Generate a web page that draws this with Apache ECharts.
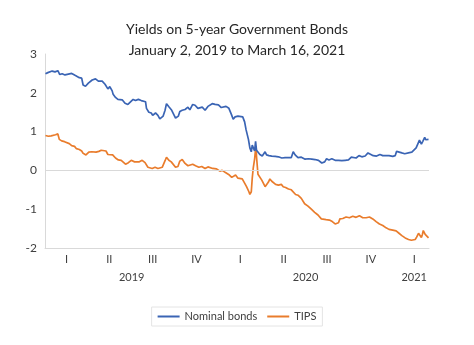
<!DOCTYPE html>
<html>
<head>
<meta charset="utf-8">
<script src="https://cdn.jsdelivr.net/npm/echarts@6/dist/echarts.min.js"></script>
<style>html,body{margin:0;padding:0;background:#fff;}#c{width:474px;height:345px;}</style>
</head>
<body>
<div id="c"></div>
<script>
const nominalDates = ['2019-01-02','2019-01-07','2019-01-11','2019-01-16','2019-01-22','2019-01-28','2019-02-01','2019-02-06','2019-02-12','2019-02-19','2019-02-26','2019-03-01','2019-03-05','2019-03-08','2019-03-14','2019-03-19','2019-03-22','2019-03-27','2019-04-02','2019-04-10','2019-04-17','2019-04-23','2019-04-26','2019-05-01','2019-05-07','2019-05-13','2019-05-17','2019-05-22','2019-05-24','2019-05-29','2019-06-03','2019-06-07','2019-06-12','2019-06-18','2019-06-24','2019-06-28','2019-07-05','2019-07-10','2019-07-16','2019-07-22','2019-07-26','2019-07-31','2019-08-02','2019-08-07','2019-08-12','2019-08-15','2019-08-21','2019-08-26','2019-08-30','2019-09-03','2019-09-06','2019-09-10','2019-09-13','2019-09-18','2019-09-24','2019-09-27','2019-10-02','2019-10-04','2019-10-08','2019-10-11','2019-10-16','2019-10-22','2019-10-28','2019-11-01','2019-11-07','2019-11-12','2019-11-18','2019-11-22','2019-11-27','2019-12-03','2019-12-09','2019-12-13','2019-12-18','2019-12-24','2019-12-31','2020-01-06','2020-01-10','2020-01-16','2020-01-22','2020-01-27','2020-01-31','2020-02-04','2020-02-10','2020-02-14','2020-02-20','2020-02-24','2020-02-27','2020-03-03','2020-03-06','2020-03-09','2020-03-11','2020-03-13','2020-03-16','2020-03-18','2020-03-20','2020-03-24','2020-03-27','2020-04-01','2020-04-07','2020-04-10','2020-04-15','2020-04-21','2020-04-28','2020-05-05','2020-05-12','2020-05-19','2020-05-26','2020-06-01','2020-06-05','2020-06-09','2020-06-15','2020-06-22','2020-06-30','2020-07-07','2020-07-14','2020-07-21','2020-07-28','2020-08-04','2020-08-10','2020-08-14','2020-08-19','2020-08-25','2020-09-01','2020-09-08','2020-09-15','2020-09-22','2020-09-29','2020-10-05','2020-10-09','2020-10-15','2020-10-21','2020-10-27','2020-11-03','2020-11-09','2020-11-13','2020-11-20','2020-11-27','2020-12-04','2020-12-10','2020-12-17','2020-12-23','2020-12-31','2021-01-05','2021-01-08','2021-01-12','2021-01-19','2021-01-25','2021-01-29','2021-02-04','2021-02-09','2021-02-12','2021-02-18','2021-02-22','2021-02-25','2021-03-01','2021-03-04','2021-03-08','2021-03-10','2021-03-12','2021-03-16'];
const nominalValues = [2.49,2.52,2.53,2.56,2.54,2.57,2.47,2.49,2.46,2.48,2.50,2.52,2.45,2.40,2.39,2.38,2.20,2.17,2.25,2.33,2.36,2.30,2.27,2.30,2.22,2.10,2.16,2.05,1.96,1.88,1.83,1.80,1.82,1.73,1.70,1.71,1.83,1.80,1.83,1.80,1.81,1.77,1.60,1.50,1.48,1.42,1.48,1.42,1.33,1.32,1.40,1.55,1.72,1.64,1.55,1.56,1.35,1.32,1.40,1.52,1.55,1.57,1.63,1.56,1.70,1.68,1.60,1.60,1.63,1.55,1.65,1.67,1.72,1.70,1.69,1.62,1.62,1.65,1.60,1.45,1.32,1.38,1.40,1.42,1.38,1.25,1.05,0.80,0.58,0.48,0.65,0.70,0.50,0.75,0.52,0.50,0.41,0.37,0.48,0.40,0.38,0.37,0.36,0.35,0.32,0.33,0.33,0.33,0.48,0.40,0.33,0.34,0.29,0.30,0.29,0.28,0.26,0.19,0.22,0.30,0.27,0.30,0.26,0.26,0.25,0.26,0.27,0.34,0.31,0.32,0.38,0.35,0.37,0.45,0.40,0.38,0.37,0.41,0.38,0.38,0.38,0.36,0.38,0.49,0.52,0.45,0.43,0.42,0.46,0.47,0.48,0.58,0.60,0.78,0.68,0.75,0.85,0.79,0.84,0.80];

const tipsDates = ['2019-01-02','2019-01-08','2019-01-14','2019-01-18','2019-01-23','2019-01-28','2019-01-31','2019-02-05','2019-02-11','2019-02-15','2019-02-21','2019-02-26','2019-03-04','2019-03-08','2019-03-14','2019-03-19','2019-03-22','2019-03-28','2019-04-03','2019-04-09','2019-04-12','2019-04-18','2019-04-24','2019-04-29','2019-05-03','2019-05-09','2019-05-13','2019-05-17','2019-05-23','2019-05-29','2019-06-04','2019-06-10','2019-06-14','2019-06-19','2019-06-25','2019-07-01','2019-07-08','2019-07-12','2019-07-18','2019-07-24','2019-07-30','2019-08-05','2019-08-09','2019-08-14','2019-08-20','2019-08-26','2019-08-30','2019-09-04','2019-09-10','2019-09-13','2019-09-18','2019-09-23','2019-09-27','2019-10-02','2019-10-07','2019-10-11','2019-10-16','2019-10-22','2019-10-28','2019-11-01','2019-11-07','2019-11-13','2019-11-20','2019-11-26','2019-12-03','2019-12-09','2019-12-13','2019-12-19','2019-12-27','2020-01-03','2020-01-08','2020-01-14','2020-01-17','2020-01-23','2020-01-28','2020-01-31','2020-02-05','2020-02-10','2020-02-14','2020-02-19','2020-02-24','2020-02-28','2020-03-04','2020-03-06','2020-03-09','2020-03-11','2020-03-13','2020-03-16','2020-03-18','2020-03-19','2020-03-20','2020-03-23','2020-03-25','2020-03-27','2020-03-31','2020-04-03','2020-04-07','2020-04-09','2020-04-14','2020-04-17','2020-04-21','2020-04-24','2020-04-29','2020-05-05','2020-05-11','2020-05-15','2020-05-20','2020-05-26','2020-06-01','2020-06-05','2020-06-10','2020-06-15','2020-06-22','2020-06-29','2020-07-06','2020-07-13','2020-07-20','2020-07-27','2020-08-03','2020-08-07','2020-08-13','2020-08-20','2020-08-26','2020-09-01','2020-09-08','2020-09-11','2020-09-17','2020-09-24','2020-10-01','2020-10-08','2020-10-15','2020-10-22','2020-10-29','2020-11-05','2020-11-12','2020-11-19','2020-11-26','2020-12-03','2020-12-10','2020-12-17','2020-12-23','2020-12-31','2021-01-07','2021-01-13','2021-01-19','2021-01-26','2021-02-02','2021-02-08','2021-02-12','2021-02-16','2021-02-19','2021-02-23','2021-02-25','2021-03-01','2021-03-03','2021-03-05','2021-03-09','2021-03-12','2021-03-16'];
const tipsValues = [0.90,0.88,0.89,0.93,0.92,0.94,0.80,0.76,0.74,0.72,0.69,0.64,0.62,0.56,0.54,0.50,0.44,0.40,0.47,0.48,0.52,0.47,0.49,0.52,0.49,0.50,0.41,0.44,0.40,0.32,0.27,0.26,0.22,0.16,0.20,0.26,0.22,0.18,0.22,0.26,0.20,0.08,0.10,0.05,0.08,0.05,0.03,0.08,0.25,0.34,0.26,0.22,0.20,0.08,0.10,0.24,0.28,0.18,0.12,0.10,0.16,0.12,0.08,0.10,0.05,0.09,0.07,0.05,0.04,-0.02,0.00,-0.05,-0.03,-0.12,-0.18,-0.20,-0.12,-0.20,-0.18,-0.22,-0.33,-0.42,-0.55,-0.62,-0.55,-0.20,0.05,0.30,0.55,0.62,0.35,-0.10,-0.15,-0.10,-0.25,-0.30,-0.42,-0.38,-0.30,-0.22,-0.28,-0.32,-0.36,-0.38,-0.36,-0.42,-0.44,-0.48,-0.50,-0.52,-0.62,-0.64,-0.72,-0.86,-0.92,-1.00,-1.08,-1.15,-1.25,-1.30,-1.27,-1.28,-1.32,-1.38,-1.35,-1.25,-1.24,-1.20,-1.22,-1.18,-1.21,-1.17,-1.22,-1.22,-1.20,-1.25,-1.32,-1.38,-1.42,-1.48,-1.52,-1.54,-1.56,-1.62,-1.68,-1.74,-1.78,-1.80,-1.82,-1.78,-1.72,-1.62,-1.58,-1.73,-1.66,-1.55,-1.65,-1.70,-1.74];

const quarterLabels = ['I','II','III','IV','I','II','III','IV','I'];
const quarterPositions = ['2019-02-15','2019-05-16','2019-08-15','2019-11-15','2020-02-15','2020-05-16','2020-08-15','2020-11-15','2021-02-14'];
const yearLabels = ['2019','2020','2021'];
const yearPositions = ['2019-07-02','2020-07-01','2021-02-14'];
const yTicks = [-2,-1,0,1,2,3];

// x is measured in days since 2019-01-01
const DAY = 86400000;
const day = d => (new Date(d + 'T00:00:00Z').getTime() - Date.UTC(2019, 0, 1)) / DAY;
const xMin = day('2019-01-01');
const xMax = day('2021-03-17');
const qPos = quarterPositions.map(day);
const yPos = yearPositions.map(day);
function nearestLabel(v, pos, labels) {
  let best = 0, bd = Infinity;
  pos.forEach((p, i) => { const d = Math.abs(p - v); if (d < bd) { bd = d; best = i; } });
  return labels[best];
}

const FONT = 'Lato';
const BLUE = '#3A64B4';
const ORANGE = '#E97C2C';
const chart = echarts.init(document.getElementById('c'), null, {renderer: 'canvas'});
chart.setOption({
  animation: false,
  backgroundColor: '#ffffff',
  title: {
    text: 'Yields on 5-year Government Bonds\nJanuary 2, 2019 to March 16, 2021',
    left: 'center', top: 14,
    textStyle: {fontFamily: FONT, fontSize: 14, fontWeight: 'normal', color: '#262626', lineHeight: 21}
  },
  legend: {
    bottom: 19, left: 'center',
    data: ['Nominal bonds', 'TIPS'],
    icon: 'rect', itemWidth: 22, itemHeight: 2, itemGap: 10,
    borderColor: '#e4e4e4', borderWidth: 1, padding: [4, 6, 4, 6],
    textStyle: {fontFamily: FONT, fontSize: 11, color: '#404040'}
  },
  grid: {left: 45, right: 45, top: 54, bottom: 97},
  xAxis: [
    {
      type: 'value', min: xMin, max: xMax,
      axisLine: {show: true, onZero: false, lineStyle: {color: '#d9d9d9', width: 1}},
      axisTick: {show: false},
      splitLine: {show: false},
      axisLabel: {
        customValues: qPos, margin: 6, color: '#404040', fontFamily: FONT, fontSize: 11,
        showMinLabel: true, showMaxLabel: true,
        formatter: v => nearestLabel(v, qPos, quarterLabels)
      }
    },
    {
      type: 'value', min: xMin, max: xMax, position: 'bottom', offset: 0,
      axisLine: {show: false}, axisTick: {show: false}, splitLine: {show: false},
      axisLabel: {
        customValues: yPos, margin: 24, color: '#404040', fontFamily: FONT, fontSize: 11,
        formatter: v => nearestLabel(v, yPos, yearLabels)
      }
    }
  ],
  yAxis: {
    type: 'value', min: yTicks[0], max: yTicks[yTicks.length - 1], interval: 1,
    axisLine: {show: true, lineStyle: {color: '#d9d9d9'}},
    axisTick: {show: false},
    splitLine: {show: false},
    axisLabel: {margin: 8, color: '#404040', fontFamily: FONT, fontSize: 12}
  },
  series: [
    {
      name: 'Nominal bonds', type: 'line', xAxisIndex: 0, showSymbol: false,
      data: nominalDates.map((d, i) => [day(d), nominalValues[i]]),
      lineStyle: {color: BLUE, width: 1.7}, itemStyle: {color: BLUE},
      markLine: {
        silent: true, symbol: 'none', label: {show: false},
        lineStyle: {color: '#d9d9d9', type: 'solid', width: 1},
        data: [{yAxis: 0}]
      },
      z: 3
    },
    {
      name: 'TIPS', type: 'line', xAxisIndex: 0, showSymbol: false,
      data: tipsDates.map((d, i) => [day(d), tipsValues[i]]),
      lineStyle: {color: ORANGE, width: 1.7}, itemStyle: {color: ORANGE},
      z: 2
    }
  ]
});
</script>
</body>
</html>
